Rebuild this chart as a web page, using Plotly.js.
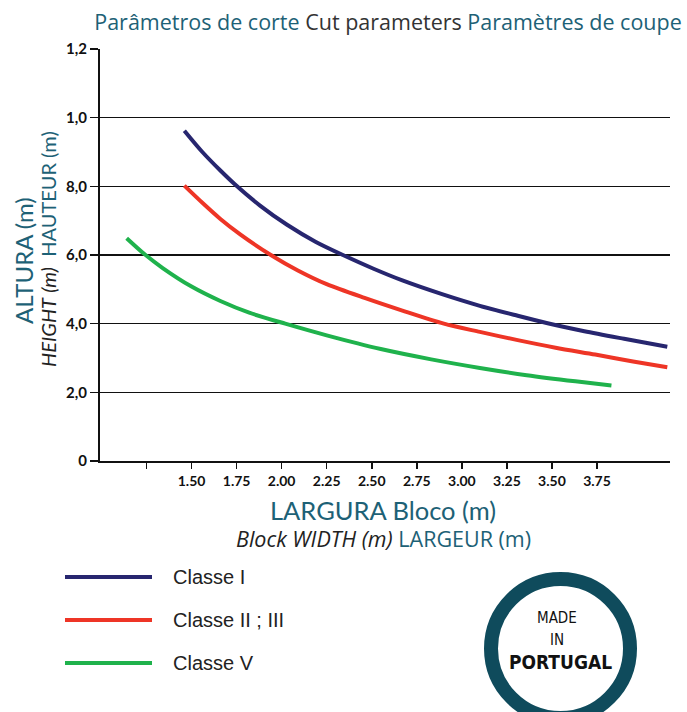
<!DOCTYPE html>
<html>
<head>
<meta charset="utf-8">
<script src="https://cdn.plot.ly/plotly-3.0.1.min.js"></script>
<style>html,body{margin:0;padding:0;background:#fff;}#chart{width:687px;height:712px;}</style>
</head>
<body>
<div id="chart"></div>
<script>
// Data (height axis in chart units 0..12)
const classe1X = [1.46, 1.56, 1.66, 1.74, 1.88, 2.03, 2.19, 2.34, 2.51, 2.67, 2.89, 3.10, 3.31, 3.47, 3.68, 3.90, 4.14];
const classe1Y = [9.62, 9.00, 8.46, 8.06, 7.44, 6.88, 6.38, 6.00, 5.60, 5.26, 4.86, 4.52, 4.23, 4.02, 3.78, 3.56, 3.33];
const classe2X = [1.46, 1.56, 1.66, 1.77, 1.94, 2.09, 2.25, 2.46, 2.67, 2.90, 3.10, 3.31, 3.52, 3.74, 3.95, 4.14];
const classe2Y = [8.02, 7.52, 7.05, 6.60, 6.00, 5.55, 5.15, 4.75, 4.38, 4.00, 3.76, 3.52, 3.30, 3.10, 2.90, 2.73];
const classe5X = [1.14, 1.24, 1.34, 1.50, 1.66, 1.82, 2.02, 2.25, 2.55, 2.83, 3.10, 3.36, 3.63, 3.83];
const classe5Y = [6.49, 6.02, 5.62, 5.08, 4.66, 4.32, 4.00, 3.66, 3.26, 2.96, 2.71, 2.50, 2.32, 2.20];

const seriesNames = ['Classe I', 'Classe II ; III', 'Classe V'];
const xTickVals = [1.25, 1.50, 1.75, 2.00, 2.25, 2.50, 2.75, 3.00, 3.25, 3.50, 3.75];
const xTickText = ['', '1.50', '1.75', '2.00', '2.25', '2.50', '2.75', '3.00', '3.25', '3.50', '3.75'];
const yTickVals = [0, 2, 4, 6, 8, 10, 12];
const yTickText = ['0', '2,0', '4,0', '6,0', '8,0', '1,0', '1,2'];

const colors = ['#27266f', '#ee3526', '#1fb24c'];
const teal = '#1d6176';

const W = 687, H = 712;
const M = {l: 100, r: 17, t: 49, b: 251};
const pw = W - M.l - M.r, ph = H - M.t - M.b;
const px = x => (x - M.l) / pw;
const py = y => (H - M.b - y) / ph;

const traces = [
  {x: classe1X, y: classe1Y, name: seriesNames[0], mode: 'lines', line: {color: colors[0], width: 4, shape: 'spline', smoothing: 0.8}},
  {x: classe2X, y: classe2Y, name: seriesNames[1], mode: 'lines', line: {color: colors[1], width: 4, shape: 'spline', smoothing: 0.8}},
  {x: classe5X, y: classe5Y, name: seriesNames[2], mode: 'lines', line: {color: colors[2], width: 4, shape: 'spline', smoothing: 0.8}}
];

const legendY = [577, 620, 663];
const shapes = [
  {type: 'line', xref: 'paper', yref: 'paper', x0: px(92), x1: 0, y0: 0, y1: 0, line: {color: '#111', width: 2}}
];
const annotations = [
  {xref: 'paper', yref: 'paper', x: px(23), y: py(261), text: 'ALTURA (m)', textangle: -90, showarrow: false,
   font: {family: 'Lato', size: 24, color: teal}, xanchor: 'center', yanchor: 'middle'},
  {xref: 'paper', yref: 'paper', x: px(48), y: py(249), text: '<i>HEIGHT</i> <i>(m)</i>  <span style="color:' + teal + '">HAUTEUR (m)</span>', textangle: -90, showarrow: false,
   font: {family: 'Lato', size: 20, color: '#222'}, xanchor: 'center', yanchor: 'middle'},
  {xref: 'paper', yref: 'paper', x: px(383), y: py(510), text: 'LARGURA Bloco (m)', showarrow: false,
   font: {family: 'Lato', size: 25.5, color: teal}, xanchor: 'center', yanchor: 'middle'},
  {xref: 'paper', yref: 'paper', x: px(383), y: py(538), text: '<i>Block WIDTH (m)</i> <span style="color:' + teal + '">LARGEUR (m)</span>', showarrow: false,
   font: {family: 'Open Sans', size: 21.5, color: '#222'}, xanchor: 'center', yanchor: 'middle'}
];
seriesNames.forEach((n, i) => {
  shapes.push({type: 'line', xref: 'paper', yref: 'paper', x0: px(65), x1: px(152), y0: py(legendY[i]), y1: py(legendY[i]),
    line: {color: colors[i], width: 4}});
  annotations.push({xref: 'paper', yref: 'paper', x: px(171), y: py(legendY[i]), text: n, showarrow: false,
    xanchor: 'left', yanchor: 'middle', font: {family: 'Liberation Sans', size: 20, color: '#222'}});
});
// Made in Portugal badge
shapes.push({type: 'circle', xref: 'paper', yref: 'paper', x0: px(491), x1: px(630), y0: py(579), y1: py(718),
  line: {color: '#0f4b5c', width: 14}, fillcolor: '#fff'});
annotations.push(
  {xref: 'paper', yref: 'paper', x: px(557), y: py(618), text: 'MADE', showarrow: false, xanchor: 'center', yanchor: 'middle',
   font: {family: 'Liberation Sans Narrow, DejaVu Sans Condensed', size: 15, color: '#111'}},
  {xref: 'paper', yref: 'paper', x: px(557), y: py(640), text: 'IN', showarrow: false, xanchor: 'center', yanchor: 'middle',
   font: {family: 'Liberation Sans Narrow, DejaVu Sans Condensed', size: 15, color: '#111'}},
  {xref: 'paper', yref: 'paper', x: px(560), y: py(662), text: '<b>PORTUGAL</b>', showarrow: false, xanchor: 'center', yanchor: 'middle',
   font: {family: 'Liberation Sans Narrow, DejaVu Sans Condensed', size: 19, color: '#111'}}
);

const layout = {
  width: W, height: H,
  margin: M,
  paper_bgcolor: '#fff', plot_bgcolor: '#fff',
  showlegend: false,
  title: {
    text: '<span style="color:' + teal + '">Parâmetros de corte</span> Cut parameters <span style="color:' + teal + '">Paramètres de coupe</span>',
    font: {family: 'Open Sans', size: 21.5, color: '#333'},
    x: 388 / W, xanchor: 'center', y: 1 - 22 / H, yanchor: 'middle', xref: 'container', yref: 'container'
  },
  xaxis: {
    range: [0.992, 4.155], tickmode: 'array', tickvals: xTickVals, ticktext: xTickText,
    showgrid: false, zeroline: false, showline: true, linecolor: '#111', linewidth: 2,
    ticks: 'outside', ticklen: 6, tickwidth: 1.5, tickcolor: '#111',
    tickfont: {family: 'Lato', size: 14, color: '#111', weight: 'bold'}
  },
  yaxis: {
    range: [0, 12], tickmode: 'array', tickvals: yTickVals, ticktext: yTickText,
    showgrid: true, gridcolor: '#111', gridwidth: 1.5, zeroline: false,
    showline: true, linecolor: '#111', linewidth: 2,
    ticks: 'outside', ticklen: 8, tickwidth: 1.5, tickcolor: '#111',
    tickfont: {family: 'Lato', size: 15, color: '#111', weight: 'bold'}
  },
  shapes: shapes,
  annotations: annotations
};

Plotly.newPlot('chart', traces, layout, {displayModeBar: false, staticPlot: true});
</script>
</body>
</html>
